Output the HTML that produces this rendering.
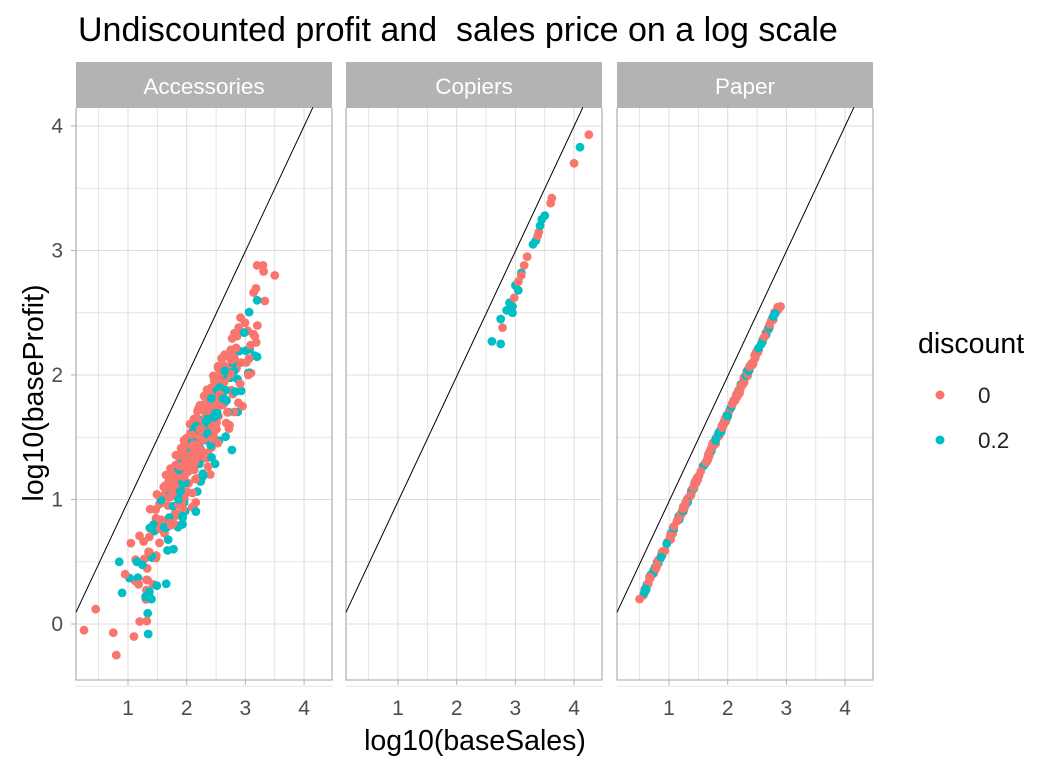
<!DOCTYPE html><html><head><meta charset="utf-8"><style>body{margin:0;background:#fff}svg{display:block}text{font-family:"Liberation Sans",sans-serif}</style></head><body>
<svg id="s" width="1056" height="768" xmlns="http://www.w3.org/2000/svg">
<rect width="1056" height="768" fill="#fff"/>
<text x="78" y="41" font-size="34" fill="#000" xml:space="preserve">Undiscounted profit and  sales price on a log scale</text>
<g id="g"></g>
<text x="475" y="750" font-size="28.5" text-anchor="middle" fill="#000">log10(baseSales)</text>
<text transform="translate(43,393) rotate(-90)" font-size="28.5" text-anchor="middle" fill="#000">log10(baseProfit)</text>
<text x="918" y="353" font-size="28.5" fill="#000">discount</text>
<circle cx="940" cy="395" r="4.5" fill="#F8766D"/><text x="978" y="403" font-size="22.5" fill="#222">0</text>
<circle cx="940" cy="440" r="4.5" fill="#00BFC4"/><text x="978" y="448" font-size="22.5" fill="#222">0.2</text>
</svg>
<script>
var g=document.getElementById('g'),h='';
function Y(v){return 624-124.5*v}
var panels=[[76,332,'Accessories',0],[346,602,'Copiers',270],[617,873,'Paper',541]];
var seed=11;function R(){seed=(seed*16807)%2147483647;return seed/2147483647}
function N(){return (R()+R()+R()-1.5)*1.2}
panels.forEach(function(p,i){var a=p[0],b=p[1],o=p[3];function X(v){return 69.3+o+58.7*v}
h+='<rect x="'+a+'" y="62" width="'+(b-a)+'" height="46" fill="#b3b3b3"/>';
h+='<text x="'+((a+b)/2)+'" y="94" font-size="22.5" fill="#fff" text-anchor="middle">'+p[2]+'</text>';
for(var v=-0.5;v<=4.1;v+=0.5){h+='<line x1="'+a+'" x2="'+b+'" y1="'+Y(v)+'" y2="'+Y(v)+'" stroke="#dedede" stroke-width="'+(v%1?0.8:1.1)+'"/>';}
for(var v=0.5;v<=4.5;v+=0.5){var x=X(v);if(x>a&&x<b)h+='<line y1="108" y2="680" x1="'+x+'" x2="'+x+'" stroke="#dedede" stroke-width="'+(v%1?0.8:1.1)+'"/>';}
h+='<path d="M'+a+' 108V680H'+b+'V108" fill="none" stroke="#b3b3b3" stroke-width="1.3"/>';
for(var k=1;k<=4;k++){var x=X(k);h+='<line x1="'+x+'" x2="'+x+'" y1="680" y2="685" stroke="#b3b3b3"/><text x="'+x+'" y="715" font-size="21" fill="#4d4d4d" text-anchor="middle">'+k+'</text>';}
var v0=(a-69.3-o)/58.7,v1=4.15;h+='<line x1="'+a+'" y1="'+Y(v0-0.02)+'" x2="'+X(v1)+'" y2="'+Y(v1)+'" stroke="#000" stroke-width="1"/>';
var pts=[];
if(i==0){for(var n=0;n<400;n++){var s=1.0+(R()+R())/2*2.4;var d=R()<0.3?1:0;var pr=s-0.45-Math.abs(N())*0.55-(d?0.1:0);pts.push([s,pr,d]);}
pts=pts.concat([[0.25,-0.05,0],[0.45,0.12,0],[0.75,-0.07,0],[0.8,-0.25,0],[0.85,0.5,1],[0.9,0.25,1],[1.1,-0.1,0],[1.2,0.02,0],[0.95,0.4,0],[1.05,0.65,0],[1.3,0.22,1],[1.4,0.2,1],[1.35,0.58,0],[3.5,2.8,0],[3.3,2.88,0],[3.2,2.88,0],[3.05,2.0,0],[3.2,2.6,1],[2.95,1.75,0]]);}
if(i==1){pts=[[2.6,2.27,1],[2.75,2.25,1],[2.78,2.38,0],[2.75,2.45,1],[2.85,2.52,1],[2.9,2.58,1],[2.95,2.55,1],[2.98,2.62,0],[3,2.72,1],[3.05,2.75,0],[3.1,2.82,1],[3.15,2.88,0],[3.2,2.95,0],[3.05,2.68,1],[3.3,3.05,1],[3.35,3.08,1],[3.4,3.15,0],[3.42,3.2,1],[3.45,3.25,1],[3.5,3.28,1],[3.6,3.38,0],[3.62,3.42,0],[4.0,3.7,0],[4.1,3.83,1],[4.25,3.93,0],[2.95,2.5,1],[3.1,2.8,0],[3.38,3.12,0]];}
if(i==2){for(var n=0;n<260;n++){var s=0.55+R()*2.35;var d=R()<0.3?1:0;pts.push([s,s-0.32+N()*0.02,d]);}pts.push([0.5,0.2,0]);pts.push([2.9,2.55,0]);}
pts.forEach(function(q){h+='<circle cx="'+X(q[0]).toFixed(1)+'" cy="'+Y(q[1]).toFixed(1)+'" r="4.4" fill="'+(q[2]?'#00BFC4':'#F8766D')+'"/>';});
});
[0,1,2,3,4].forEach(function(t){var y=Y(t);h+='<line x1="71" x2="76" y1="'+y+'" y2="'+y+'" stroke="#b3b3b3"/><text x="63" y="'+(y+7)+'" font-size="21" fill="#4d4d4d" text-anchor="end">'+t+'</text>';});
g.innerHTML=h;
</script>
</body></html>
